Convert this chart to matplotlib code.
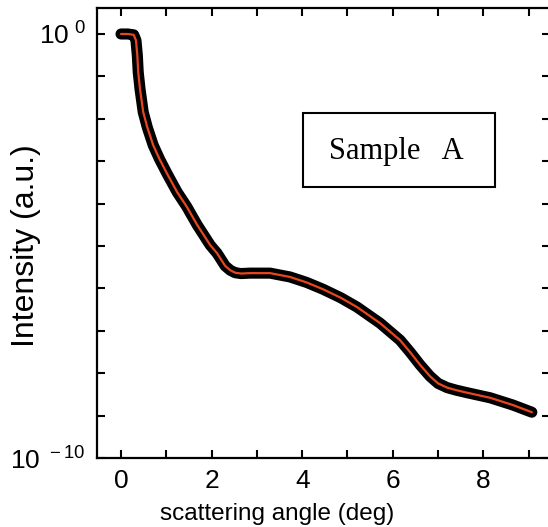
import matplotlib
matplotlib.use("Agg")
import matplotlib.pyplot as plt
from matplotlib.ticker import FixedLocator, FixedFormatter
from matplotlib.patches import Rectangle

# Data (scattering angle in deg, log10 intensity)
angle = [0.00, 0.15, 0.28, 0.33, 0.36, 0.38, 0.42, 0.49, 0.58, 0.71, 0.85, 1.02,
         1.24, 1.45, 1.68, 1.97, 2.12, 2.30, 2.41, 2.52, 2.65, 2.85, 3.29, 3.73,
         4.10, 4.46, 4.85, 5.21, 5.72, 6.16, 6.38, 6.60, 6.82, 7.00, 7.20, 7.40,
         7.64, 8.15, 8.65, 9.07]
log_intensity = [0.00, 0.00, -0.02, -0.15, -0.50, -0.90, -1.30, -1.84, -2.20,
                 -2.62, -2.95, -3.30, -3.73, -4.07, -4.50, -4.98, -5.17, -5.47,
                 -5.57, -5.63, -5.65, -5.64, -5.64, -5.73, -5.86, -6.02, -6.22,
                 -6.44, -6.82, -7.22, -7.50, -7.80, -8.07, -8.24, -8.34, -8.40,
                 -8.46, -8.58, -8.75, -8.92]
intensity = [10.0 ** v for v in log_intensity]

x_ticks = list(range(0, 10))
x_tick_labels = ["0", "", "2", "", "4", "", "6", "", "8", ""]
y_ticks = [10.0 ** e for e in range(-10, 1)]
y_tick_labels = [r"$\mathregular{10^{\ -10}}$"] + [""] * 9 + [r"$\mathregular{10^{\ 0}}$"]

plt.rcParams["font.family"] = ["Liberation Sans", "DejaVu Sans"]
plt.rcParams["mathtext.fontset"] = "custom"
plt.rcParams["mathtext.rm"] = "Liberation Sans"

W, H = 548, 527
fig = plt.figure(figsize=(W / 100, H / 100), dpi=100)
left, right, top, bottom = 97, 549.5, 8, 458
ax = fig.add_axes([left / W, (H - bottom) / H, (right - left) / W, (bottom - top) / H])

ax.plot(angle, intensity, color="black", lw=8.0, solid_capstyle="round",
        solid_joinstyle="round")
ax.plot(angle, intensity, color="#e8461e", lw=1.6, solid_joinstyle="round",
        solid_capstyle="round")

ax.set_yscale("log")
ax.set_xlim(-0.53, 9.46)
ax.set_ylim(1e-10, 10 ** 0.613)

ax.xaxis.set_major_locator(FixedLocator(x_ticks))
ax.xaxis.set_major_formatter(FixedFormatter(x_tick_labels))
ax.xaxis.set_minor_locator(FixedLocator([]))
ax.yaxis.set_major_locator(FixedLocator(y_ticks))
ax.yaxis.set_major_formatter(FixedFormatter(y_tick_labels))
ax.yaxis.set_minor_locator(FixedLocator([]))

ax.tick_params(axis="both", which="major", direction="in", length=6, width=1.5,
               top=True, right=True, labelsize=19)
ax.tick_params(axis="x", pad=8)
ax.tick_params(axis="y", pad=8)
for s in ax.spines.values():
    s.set_linewidth(1.6)
ax.spines["right"].set_visible(False)

ax.set_xlabel("scattering angle (deg)", fontsize=17.5, labelpad=7)
ax.xaxis.label.set_x(0.398)
ax.set_ylabel("Intensity (a.u.)", fontsize=23, labelpad=-22)
ax.yaxis.label.set_y(0.471)

# Sample label box
ax.add_patch(Rectangle((0.455, 0.602), 0.425, 0.165, transform=ax.transAxes,
                       fill=False, edgecolor="black", lw=1.5))
ax.text(0.662, 0.682, "Sample   A", transform=ax.transAxes, ha="center", va="center",
        fontsize=22, family=["Liberation Serif", "DejaVu Serif"])

fig.savefig("out.png", dpi=100)
